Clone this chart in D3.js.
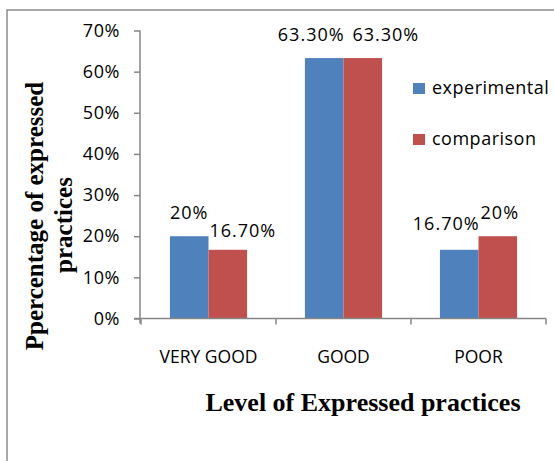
<!DOCTYPE html>
<html>
<head>
<meta charset="utf-8">
<script src="https://cdn.jsdelivr.net/npm/d3@7"></script>
<style>
  html, body { margin: 0; padding: 0; background: #fff; }
  svg { display: block; }
</style>
</head>
<body>
<svg id="chart" width="554" height="461"></svg>
<script>
// Levels of expressed practices and the share of each group per level
const categories = ["VERY GOOD", "GOOD", "POOR"];
const seriesNames = ["experimental", "comparison"];
const experimental = [20, 63.3, 16.7];
const comparison = [16.7, 63.3, 20];
const valueLabels = [["20%", "16.70%"], ["63.30%", "63.30%"], ["16.70%", "20%"]];
const yTicks = [0, 10, 20, 30, 40, 50, 60, 70];
const colors = ["#4F81BD", "#C0504D"];

// label nudges (px) so neighbouring value labels do not collide
const labelDx = [[0, 15], [-13, 23], [-13, 2]];
const labelGap = [[17, 13], [17, 17], [20, 17]];

const svg = d3.select("#chart");
const axisColor = "#868686";
const sans = "'Open Sans', 'Noto Sans', sans-serif";
const serif = "'Liberation Serif', 'Times New Roman', serif";

// outer frame (top and left edges)
svg.append("path")
  .attr("d", "M7,461 L7,10 L554,10")
  .attr("fill", "none").attr("stroke", "#8c8c8c").attr("stroke-width", 1.5);

const x0 = d3.scaleBand().domain(categories).range([141, 546]).paddingInner(0).paddingOuter(0);
const barW = x0.bandwidth() / 3.5;
const x1 = d3.scaleBand().domain(seriesNames).range([0, barW * 2]);
const y = d3.scaleLinear().domain([0, 70]).range([318.5, 30.5]);

const data = categories.map((c, i) => ({ cat: c, vals: [experimental[i], comparison[i]] }));

// bars
const groups = svg.append("g").selectAll("g").data(data).join("g")
  .attr("transform", d => `translate(${x0(d.cat) + (x0.bandwidth() - barW * 2) / 2},0)`);

groups.selectAll("rect").data(d => d.vals.map((v, j) => ({ v, j })))
  .join("rect")
  .attr("x", d => x1(seriesNames[d.j]))
  .attr("width", x1.bandwidth())
  .attr("y", d => y(d.v))
  .attr("height", d => y(0) - y(d.v))
  .attr("fill", d => colors[d.j]);

// value labels
data.forEach((d, i) => {
  d.vals.forEach((v, j) => {
    const cx = x0(d.cat) + (x0.bandwidth() - barW * 2) / 2 + x1(seriesNames[j]) + x1.bandwidth() / 2;
    svg.append("text")
      .attr("x", cx + labelDx[i][j])
      .attr("y", y(v) - labelGap[i][j])
      .attr("text-anchor", "middle")
      .attr("font-family", sans).attr("font-size", 18)
      .attr("letter-spacing", 1)
      .attr("fill", "#000")
      .text(valueLabels[i][j]);
  });
});

// y axis
const yAxis = d3.axisLeft(y).tickValues(yTicks).tickFormat(d => d + "%").tickSize(6).tickPadding(14);
const gy = svg.append("g").attr("transform", "translate(140,0)").call(yAxis);
gy.select(".domain").remove();
gy.append("line").attr("x1", 0).attr("x2", 0).attr("y1", y(70)).attr("y2", y(0) + 5)
  .attr("stroke", axisColor).attr("stroke-width", 1.5);
gy.selectAll(".tick line").attr("stroke", axisColor).attr("stroke-width", 1.5);
gy.selectAll(".tick text").attr("font-family", sans).attr("font-size", 18)
  .attr("letter-spacing", 0.6).attr("fill", "#000");

// x axis
const gx = svg.append("g").attr("transform", `translate(0,${y(0)})`);
gx.append("line").attr("x1", 134).attr("x2", 546).attr("y1", 0).attr("y2", 0)
  .attr("stroke", axisColor).attr("stroke-width", 1.5);
const bounds = categories.map(c => x0(c)).concat([x0.range()[1]]);
gx.selectAll("line.cat-tick").data(bounds).join("line").attr("class", "cat-tick")
  .attr("x1", d => d).attr("x2", d => d).attr("y1", 0).attr("y2", 6)
  .attr("stroke", axisColor).attr("stroke-width", 1.5);
gx.selectAll("text").data(categories).join("text")
  .attr("x", d => x0(d) + x0.bandwidth() / 2)
  .attr("y", 44.5)
  .attr("text-anchor", "middle")
  .attr("font-family", sans).attr("font-size", 17.5)
  .attr("fill", "#000")
  .text(d => d);

// axis titles
svg.append("text")
  .attr("x", 363).attr("y", 411)
  .attr("text-anchor", "middle")
  .attr("font-family", serif).attr("font-size", 26).attr("font-weight", "bold")
  .text("Level of Expressed practices");

svg.append("text")
  .attr("transform", "translate(43,216) rotate(-90)")
  .attr("text-anchor", "middle")
  .attr("font-family", serif).attr("font-size", 25).attr("font-weight", "bold")
  .text("Ppercentage of expressed");
svg.append("text")
  .attr("transform", "translate(72,225) rotate(-90)")
  .attr("text-anchor", "middle")
  .attr("font-family", serif).attr("font-size", 25).attr("font-weight", "bold")
  .text("practices");

// legend
const legend = svg.append("g").selectAll("g").data(seriesNames).join("g")
  .attr("transform", (d, i) => `translate(413,${83 + i * 51})`);
legend.append("rect").attr("width", 12).attr("height", 11).attr("fill", (d, i) => colors[i]);
legend.append("text").attr("x", 19).attr("y", 11)
  .attr("font-family", sans).attr("font-size", 18).attr("letter-spacing", 0.5)
  .attr("fill", "#000").text(d => d);
</script>
</body>
</html>
